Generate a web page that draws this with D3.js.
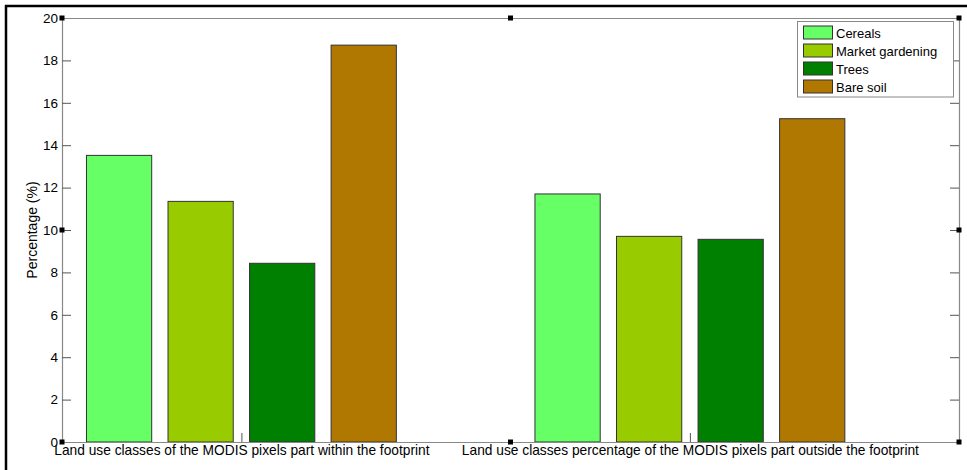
<!DOCTYPE html>
<html><head><meta charset="utf-8">
<script src="https://cdn.jsdelivr.net/npm/d3@7"></script>
<style>
html,body{margin:0;padding:0;background:#fff;}
svg{display:block;font-family:Arial,"Liberation Sans",sans-serif;}
</style></head>
<body><svg id="c" width="967" height="470"></svg>
<script>
const categories = ["Land use classes of the MODIS pixels part within the footprint",
                    "Land use classes percentage of the MODIS pixels part outside the footprint"];
const categoryPos = [1, 2];
const seriesNames = ["Cereals", "Market gardening", "Trees", "Bare soil"];
const seriesColors = ["#66ff66", "#99cc00", "#008000", "#b07800"];
const cereals = [13.52, 11.7];
const marketGardening = [11.35, 9.7];
const trees = [8.43, 9.56];
const bareSoil = [18.72, 15.25];
const yTicks = [0, 2, 4, 6, 8, 10, 12, 14, 16, 18, 20];
const yLabel = "Percentage (%)";

const seriesValues = [cereals, marketGardening, trees, bareSoil];

const svg = d3.select("#c");
const L = 62, R = 959, T = 18, B = 442;
const x = d3.scaleLinear().domain([0.6, 2.6]).range([L, R]);
const y = d3.scaleLinear().domain([0, 20]).range([B, T]);

// MATLAB grouped bar geometry
const nS = seriesNames.length;
const groupW = Math.min(0.8, nS / (nS + 1.5));
const step = groupW / nS;
const barW = step * 0.8;

// outer frame (cropped figure border)
svg.append("line").attr("x1", 6).attr("x2", 6).attr("y1", 5).attr("y2", 470).attr("stroke", "#000").attr("stroke-width", 2.5);
svg.append("line").attr("x1", 5).attr("x2", 967).attr("y1", 6).attr("y2", 6).attr("stroke", "#000").attr("stroke-width", 2.5);

// bars
seriesValues.forEach((vals, si) => {
  svg.append("g").selectAll("rect").data(vals).join("rect")
    .attr("x", (d, i) => x(categoryPos[i] + (si - (nS - 1) / 2) * step - barW / 2))
    .attr("width", (d, i) => x(categoryPos[i] + barW) - x(categoryPos[i]))
    .attr("y", d => y(d))
    .attr("height", d => y(0) - y(d))
    .attr("fill", seriesColors[si])
    .attr("stroke", "#333")
    .attr("stroke-width", 1);
});

// axes
const axStyle = (fs) => g => {
  g.select(".domain").attr("stroke", "#888").attr("stroke-width", 1.2);
  g.selectAll(".tick line").attr("stroke", "#555");
  g.selectAll(".tick text").attr("fill", "#000").attr("font-size", fs).attr("font-family", "Arial, 'Liberation Sans', sans-serif");
};
svg.append("g").attr("transform", `translate(${L},0)`)
  .call(d3.axisLeft(y).tickValues(yTicks).tickSize(-9).tickSizeOuter(0).tickPadding(4))
  .call(axStyle(13.5));
svg.append("g").attr("transform", `translate(${R},0)`)
  .call(d3.axisRight(y).tickValues(yTicks).tickSize(-9).tickSizeOuter(0).tickFormat(""))
  .call(axStyle(13.5));
svg.append("g").attr("transform", `translate(0,${B})`)
  .call(d3.axisBottom(x).tickValues(categoryPos).tickSize(-9).tickSizeOuter(0).tickPadding(3)
        .tickFormat((d, i) => categories[i]))
  .call(axStyle(13.75));
svg.append("g").attr("transform", `translate(0,${T})`)
  .call(d3.axisTop(x).tickValues(categoryPos).tickSize(0).tickSizeOuter(0).tickFormat(""))
  .call(axStyle(13.5));

// y label
svg.append("text").attr("transform", `translate(37,${(T + B) / 2}) rotate(-90)`)
  .attr("text-anchor", "middle").attr("font-size", 14).text(yLabel);

// selection handles
const hx = [L, (L + R) / 2, R], hy = [T, (T + B) / 2, B];
hx.forEach(px => hy.forEach(py => {
  if (px === (L + R) / 2 && py === (T + B) / 2) return;
  svg.append("rect").attr("x", px - 2.5).attr("y", py - 2.5).attr("width", 5).attr("height", 5)
    .attr("fill", "#000");
}));

// legend
const lg = svg.append("g");
lg.append("rect").attr("x", 797.5).attr("y", 21.5).attr("width", 156).attr("height", 75.5)
  .attr("fill", "#fff").attr("stroke", "#888").attr("stroke-width", 1);
seriesNames.forEach((n, i) => {
  const cy = 32.5 + i * 18;
  lg.append("rect").attr("x", 803.5).attr("y", cy - 6.5).attr("width", 29).attr("height", 13)
    .attr("fill", seriesColors[i]).attr("stroke", "#333").attr("stroke-width", 1);
  lg.append("text").attr("x", 836).attr("y", cy + 5).attr("font-size", 13).text(n);
});
</script></body></html>
